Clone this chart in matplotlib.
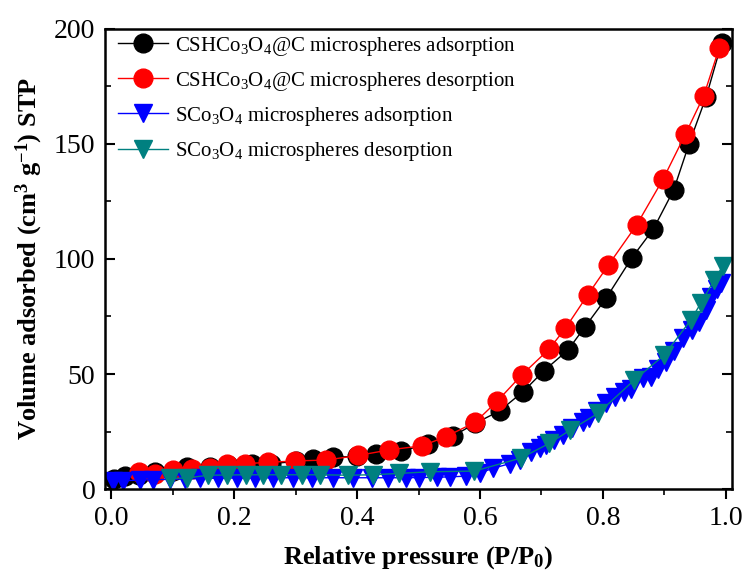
import numpy as np
import matplotlib
matplotlib.use("Agg")
import matplotlib.pyplot as plt
from matplotlib.ticker import MultipleLocator

plt.rcParams['font.family'] = 'Liberation Serif'
plt.rcParams['mathtext.fontset'] = 'custom'
plt.rcParams['mathtext.rm'] = 'Liberation Serif'
plt.rcParams['mathtext.it'] = 'Liberation Serif:italic'
plt.rcParams['mathtext.bf'] = 'Liberation Serif:bold'

# --- CSHCo3O4@C microspheres ---
csh_ads_p = [0.004, 0.023, 0.045, 0.071, 0.100, 0.123, 0.160, 0.190, 0.229, 0.260, 0.300,
             0.329, 0.361, 0.400, 0.430, 0.472, 0.515, 0.556, 0.592, 0.632, 0.670, 0.704,
             0.743, 0.771, 0.805, 0.847, 0.882, 0.915, 0.940, 0.968, 0.993]
csh_ads_v = [4.5, 5.5, 6.0, 7.5, 8.0, 9.5, 9.5, 10.5, 11.0, 11.0, 12.0,
             13.0, 13.8, 14.2, 15.4, 16.5, 19.5, 23.0, 28.5, 34.0, 42.3, 51.4,
             60.4, 70.6, 82.9, 100.5, 113.0, 130.0, 150.0, 170.6, 193.8]

csh_des_p = [0.046, 0.071, 0.100, 0.131, 0.161, 0.188, 0.218, 0.255, 0.299, 0.350, 0.402,
             0.452, 0.506, 0.544, 0.592, 0.628, 0.668, 0.712, 0.739, 0.775, 0.809, 0.855,
             0.898, 0.934, 0.964, 0.989]
csh_des_v = [7.5, 6.5, 8.3, 8.7, 9.2, 11.0, 11.0, 11.6, 12.2, 12.6, 14.6,
             17.0, 18.8, 22.7, 29.0, 38.2, 49.6, 60.7, 69.9, 84.3, 97.4, 114.9,
             134.8, 154.2, 171.0, 191.6]

# --- SCo3O4 microspheres ---
s_ads_p = [0.003, 0.020, 0.047, 0.068, 0.095, 0.120, 0.145, 0.174, 0.204, 0.234, 0.263,
           0.296, 0.326, 0.361, 0.393, 0.424, 0.450, 0.480, 0.500, 0.530, 0.551, 0.578,
           0.600, 0.621, 0.648, 0.665, 0.683, 0.697, 0.708, 0.721, 0.735, 0.750, 0.767,
           0.778, 0.790, 0.805, 0.820, 0.835, 0.846, 0.865, 0.878, 0.890, 0.902, 0.916,
           0.930, 0.945, 0.957, 0.968, 0.976, 0.985, 0.992]
s_ads_v = [3.5, 3.6, 3.9, 4.1, 4.2, 4.4, 4.6, 4.7, 4.8, 4.8, 4.9,
           4.9, 4.9, 4.9, 4.9, 4.9, 4.9, 4.9, 5.0, 5.1, 5.3, 5.6,
           7.0, 9.0, 11.0, 12.6, 16.0, 18.0, 19.0, 21.3, 23.5, 26.5, 29.3,
           30.7, 34.0, 37.5, 40.0, 42.0, 43.5, 48.1, 48.8, 52.0, 55.4, 60.0,
           65.5, 69.0, 72.7, 78.0, 83.6, 87.0, 89.4]

s_des_p = [0.096, 0.123, 0.158, 0.188, 0.220, 0.247, 0.277, 0.310, 0.339, 0.385, 0.426,
           0.469, 0.518, 0.591, 0.667, 0.713, 0.746, 0.792, 0.851, 0.900, 0.943, 0.959,
           0.981, 0.995]
s_des_v = [4.6, 4.8, 6.0, 6.1, 6.2, 6.2, 6.2, 6.2, 6.2, 6.0, 6.2,
           6.8, 7.5, 7.8, 13.5, 19.9, 25.5, 32.9, 47.4, 58.3, 73.5, 80.7,
           90.9, 97.0]

fig = plt.figure(figsize=(7.47, 5.79), dpi=100)
ax = fig.add_axes([0.1406, 0.1554, 0.8394, 0.7946])

ax.plot(csh_ads_p, csh_ads_v, '-o', color='black', lw=1, ms=13.5,
        label='CSHCo$_3$O$_4$@C microspheres adsorption')
ax.plot(csh_des_p, csh_des_v, '-o', color='red', lw=1, ms=13.5,
        label='CSHCo$_3$O$_4$@C microspheres desorption')
ax.plot(s_ads_p, s_ads_v, '-v', color='blue', lw=1, ms=12.5,
        label='SCo$_3$O$_4$ microspheres adsorption')
ax.plot(s_des_p, s_des_v, '-v', color='#008080', lw=1, ms=12.5,
        label='SCo$_3$O$_4$ microspheres desorption')

ax.set_xlim(-0.01, 1.01)
ax.set_ylim(0, 200)
ax.xaxis.set_minor_locator(MultipleLocator(0.1))
ax.yaxis.set_major_locator(MultipleLocator(50))
ax.yaxis.set_minor_locator(MultipleLocator(25))
ax.set_xticks([0.0, 0.2, 0.4, 0.6, 0.8, 1.0])
ax.set_xticklabels(['0.0', '0.2', '0.4', '0.6', '0.8', '1.0'])

ax.tick_params(axis='x', which='both', direction='out', top=False, labelsize=20, pad=5)
ax.tick_params(axis='y', which='both', direction='in', right=True, labelsize=20, pad=7)
ax.tick_params(which='major', length=7, width=1.5)
ax.tick_params(which='minor', length=4, width=1.2)
for s in ax.spines.values():
    s.set_linewidth(1.8)

ax.set_xlabel('Relative pressure (P/P$_{\\mathbf{0}}$)', fontsize=19, fontweight='bold', labelpad=10)
ax.set_ylabel('Volume adsorbed (cm$^{\\mathbf{3}}$ g$^{\\mathbf{-1}}$) STP', fontsize=19,
              fontweight='bold', labelpad=6)

ax.legend(loc='upper left', bbox_to_anchor=(0.0, 1.015), frameon=False, fontsize=15,
          handlelength=2.4, borderaxespad=0.2, labelspacing=0.58, handletextpad=0.35)

fig.savefig('out.png', dpi=100)
